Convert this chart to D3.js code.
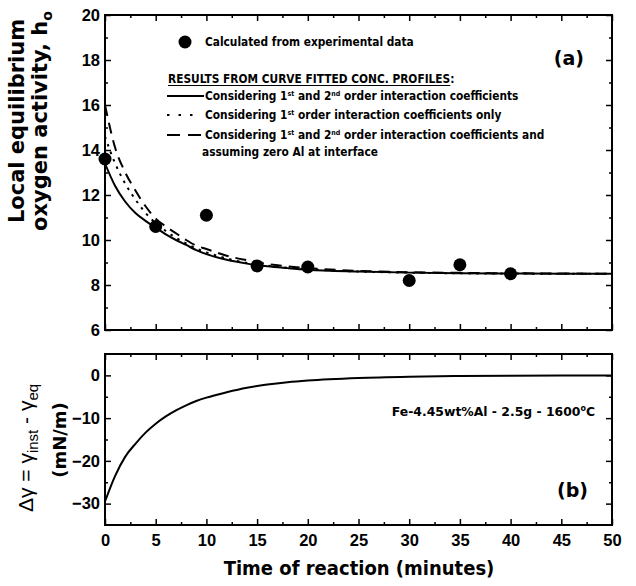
<!DOCTYPE html>
<html>
<head>
<meta charset="utf-8">
<script src="https://cdn.jsdelivr.net/npm/d3@7"></script>
<style>
  body { margin: 0; background: #fff; }
  svg { display: block; font-family: "DejaVu Sans", Verdana, sans-serif; }
  .tick text { font-weight: bold; font-size: 16.5px; fill: #000; }
  .tick line { stroke: #000; stroke-width: 1.5; }
  .cond { font-stretch: condensed; font-weight: bold; }
</style>
</head>
<body>
<div id="chart"></div>
<script>
var width = 636, height = 586;

// time grid used for the fitted curves (minutes)
var tCurve = [0, 1, 2, 3, 4, 5, 6, 7, 8, 9, 10, 12, 14, 16, 18, 20, 25, 30, 35, 40, 45, 50];
// fitted h_o curves
var hoSolid  = [13.4, 12.4, 11.7, 11.2, 10.85, 10.55, 10.25, 10.0, 9.78, 9.55, 9.37, 9.12, 8.95, 8.83, 8.75, 8.68, 8.6, 8.55, 8.52, 8.51, 8.5, 8.5];
var hoDotted = [14.6, 13.4, 12.5, 11.8, 11.2, 10.75, 10.4, 10.1, 9.85, 9.62, 9.45, 9.18, 8.98, 8.86, 8.77, 8.7, 8.6, 8.55, 8.52, 8.51, 8.5, 8.5];
var hoDashed = [16.0, 14.1, 13.0, 12.2, 11.5, 10.95, 10.6, 10.3, 10.0, 9.75, 9.6, 9.3, 9.1, 8.93, 8.83, 8.75, 8.63, 8.57, 8.54, 8.52, 8.51, 8.5];
// experimental points
var tExp  = [0, 5, 10, 15, 20, 30, 35, 40];
var hoExp = [13.6, 10.6, 11.1, 8.85, 8.8, 8.2, 8.9, 8.5];
// panel (b): delta gamma (mN/m)
var dGamma = [-29.5, -23.5, -19, -16, -13.4, -11.3, -9.6, -8.2, -7.0, -6.0, -5.2, -3.95, -2.9, -2.15, -1.6, -1.2, -0.6, -0.3, -0.15, -0.06, -0.02, 0];

var xTicks = [0, 5, 10, 15, 20, 25, 30, 35, 40, 45, 50];
var xMinor = [2.5, 7.5, 12.5, 17.5, 22.5, 27.5, 32.5, 37.5, 42.5, 47.5];
var yTopTicks = [6, 8, 10, 12, 14, 16, 18, 20];
var yTopMinor = [7, 9, 11, 13, 15, 17, 19];
var yBotTicks = [-30, -20, -10, 0];
var yBotMinor = [-25, -15, -5];

var svg = d3.select('#chart').append('svg')
    .attr('width', width)
    .attr('height', height);

var x = d3.scaleLinear().domain([0, 50]).range([105, 612]);
var yTop = d3.scaleLinear().domain([6, 20]).range([330, 15]);
var yBot = d3.scaleLinear().domain([-35, 5]).range([525, 354]);

function frame(y, major, minor, xLabels) {
    var r = y.range();
    var top = r[1], bot = r[0];
    var g = svg.append('g');
    // bottom
    g.append('g').attr('transform', 'translate(0,' + bot + ')')
        .call(d3.axisBottom(x).tickValues(xTicks).tickSize(-6).tickPadding(9)
            .tickFormat(xLabels ? d3.format('d') : ''));
    g.append('g').attr('transform', 'translate(0,' + bot + ')')
        .call(d3.axisBottom(x).tickValues(xMinor).tickSize(-3).tickFormat(''));
    // top
    g.append('g').attr('transform', 'translate(0,' + top + ')')
        .call(d3.axisTop(x).tickValues(xTicks).tickSize(-6).tickFormat(''));
    g.append('g').attr('transform', 'translate(0,' + top + ')')
        .call(d3.axisTop(x).tickValues(xMinor).tickSize(-3).tickFormat(''));
    // left
    g.append('g').attr('transform', 'translate(' + x(0) + ',0)')
        .call(d3.axisLeft(y).tickValues(major).tickSize(-6).tickPadding(5).tickFormat(d3.format('d')));
    g.append('g').attr('transform', 'translate(' + x(0) + ',0)')
        .call(d3.axisLeft(y).tickValues(minor).tickSize(-3).tickFormat(''));
    // right
    g.append('g').attr('transform', 'translate(' + x(50) + ',0)')
        .call(d3.axisRight(y).tickValues(major).tickSize(-6).tickFormat(''));
    g.append('g').attr('transform', 'translate(' + x(50) + ',0)')
        .call(d3.axisRight(y).tickValues(minor).tickSize(-3).tickFormat(''));
    g.selectAll('.domain').remove();
    g.selectAll('.tick text').filter(function () { return this.textContent === ''; }).remove();
    g.append('rect')
        .attr('x', x(0)).attr('y', top)
        .attr('width', x(50) - x(0)).attr('height', bot - top)
        .attr('fill', 'none').attr('stroke', '#000').attr('stroke-width', 2);
}

frame(yTop, yTopTicks, yTopMinor, false);
frame(yBot, yBotTicks, yBotMinor, true);

// panel (a) curves
function curveLine(y) {
    return d3.line()
        .x((d, i) => x(tCurve[i]))
        .y((d) => y(d))
        .curve(d3.curveMonotoneX);
}
svg.append('clipPath').attr('id', 'clipA')
    .append('rect').attr('x', x(0)).attr('y', yTop(20)).attr('width', x(50) - x(0)).attr('height', yTop(6) - yTop(20));

var series = [
    { values: hoSolid, dash: null },
    { values: hoDotted, dash: '2.5,5.5' },
    { values: hoDashed, dash: '11,7' }
];
var gA = svg.append('g').attr('clip-path', 'url(#clipA)');
series.forEach(function (s) {
    gA.append('path')
        .attr('d', curveLine(yTop)(s.values))
        .attr('fill', 'none')
        .attr('stroke', '#000')
        .attr('stroke-width', 2)
        .attr('stroke-dasharray', s.dash);
});
svg.selectAll('circle.exp').data(tExp).enter().append('circle')
    .attr('class', 'exp')
    .attr('cx', (d) => x(d))
    .attr('cy', (d, i) => yTop(hoExp[i]))
    .attr('r', 6.5)
    .attr('fill', '#000');

// legend
var leg = svg.append('g').attr('class', 'cond').style('font-size', '11.8px');
leg.append('circle').attr('cx', 185).attr('cy', 42).attr('r', 6.5).attr('fill', '#000');

// text with superscripts written as baseline-shifted spans
function legText(x0, y0, parts) {
    var t = leg.append('text').attr('x', x0).attr('y', y0);
    parts.forEach(function (p) {
        if (p.sup) {
            t.append('tspan').attr('baseline-shift', '4').style('font-size', '7px').text(p.sup);
        } else {
            t.append('tspan').text(p.t);
        }
    });
    return t;
}
legText(205, 46, [{ t: 'Calculated from experimental data' }]);
var hdr = legText(168, 83, [{ t: 'RESULTS FROM CURVE FITTED CONC. PROFILES:' }]);
var hdrW = hdr.node().getSubStringLength(0, 40);
leg.append('line').attr('x1', 168).attr('x2', 168 + hdrW).attr('y1', 85.5).attr('y2', 85.5)
    .attr('stroke', '#000').attr('stroke-width', 1.2);

leg.append('line').attr('x1', 167).attr('x2', 204).attr('y1', 96).attr('y2', 96).attr('stroke', '#000').attr('stroke-width', 2);
legText(205, 100, [{ t: 'Considering 1' }, { sup: 'st' }, { t: ' and 2' }, { sup: 'nd' }, { t: ' order interaction coefficients' }]);
leg.append('line').attr('x1', 167).attr('x2', 200).attr('y1', 115).attr('y2', 115).attr('stroke', '#000').attr('stroke-width', 2).attr('stroke-dasharray', '2.5,9');
legText(205, 119, [{ t: 'Considering 1' }, { sup: 'st' }, { t: ' order interaction coefficients only' }]);
leg.append('line').attr('x1', 167).attr('x2', 201).attr('y1', 135).attr('y2', 135).attr('stroke', '#000').attr('stroke-width', 2).attr('stroke-dasharray', '13,8');
legText(205, 139, [{ t: 'Considering 1' }, { sup: 'st' }, { t: ' and 2' }, { sup: 'nd' }, { t: ' order interaction coefficients and' }]);
legText(202, 156, [{ t: 'assuming zero Al at interface' }]);

svg.append('text').attr('x', 584).attr('y', 65).attr('text-anchor', 'end')
    .style('font-weight', 'bold').style('font-size', '19px').text('(a)');

// panel (b)
svg.append('path')
    .attr('d', curveLine(yBot)(dGamma))
    .attr('fill', 'none').attr('stroke', '#000').attr('stroke-width', 2);
var fe = svg.append('text').attr('x', 595).attr('y', 416).attr('text-anchor', 'end')
    .style('font-weight', 'bold').style('font-size', '12.4px');
fe.append('tspan').text('Fe-4.45wt%Al - 2.5g - 1600');
fe.append('tspan').attr('baseline-shift', '5').style('font-size', '8px').text('o');
fe.append('tspan').text('C');
svg.append('text').attr('x', 588).attr('y', 497).attr('text-anchor', 'end')
    .style('font-weight', 'bold').style('font-size', '19px').text('(b)');

// axis titles
svg.append('text').attr('class', 'cond').attr('x', 359).attr('y', 575).attr('text-anchor', 'middle')
    .style('font-size', '20px').text('Time of reaction (minutes)');

var yl = svg.append('g').attr('transform', 'translate(0,121) rotate(-90)')
    .style('font-weight', 'bold').style('font-size', '21px').attr('text-anchor', 'middle');
yl.append('text').attr('x', 0).attr('y', 24).text('Local equilibrium');
var yl2 = yl.append('text').attr('x', 0).attr('y', 47);
yl2.append('tspan').text('oxygen activity, h');
yl2.append('tspan').attr('baseline-shift', '-5').style('font-size', '14px').text('o');

var bl = svg.append('g').attr('transform', 'translate(0,448) rotate(-90)').attr('text-anchor', 'middle');
var bt = bl.append('text').attr('x', 0).attr('y', 33)
    .style('font-family', '"Liberation Sans", Arial, sans-serif').style('font-size', '21px');
bt.append('tspan').text('\u0394\u03b3 = \u03b3');
bt.append('tspan').attr('baseline-shift', '-5').style('font-size', '15px').text('inst');
bt.append('tspan').text(' - \u03b3');
bt.append('tspan').attr('baseline-shift', '-5').style('font-size', '15px').text('eq');
bl.append('text').attr('x', 8).attr('y', 66)
    .style('font-weight', 'bold').style('font-size', '18px').text('(mN/m)');
</script>
</body>
</html>
